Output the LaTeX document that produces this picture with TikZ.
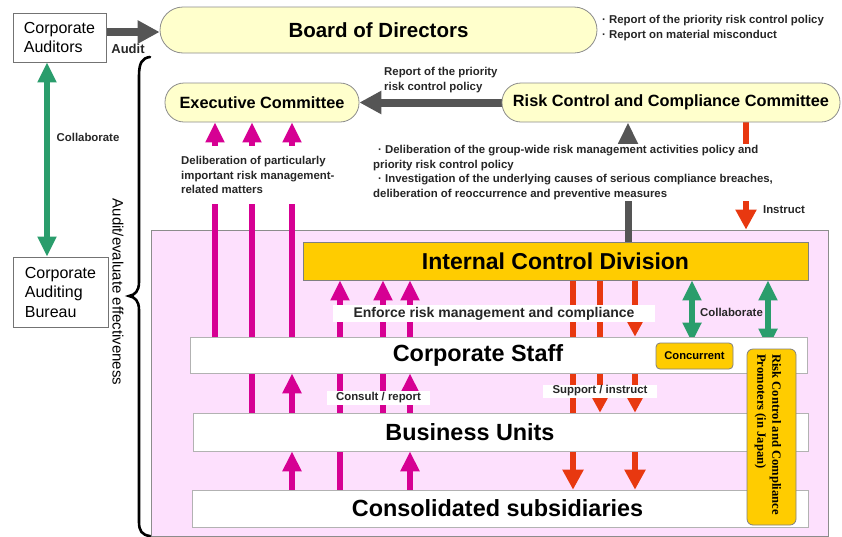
\documentclass[tikz,border=0pt]{standalone}
\usepackage{fontspec}
\setmainfont{Liberation Sans}
\newfontfamily\timesb{Liberation Serif}
\usetikzlibrary{arrows.meta}
\pgfdeclarelayer{bg}
\pgfdeclarelayer{arr}
\pgfsetlayers{bg,arr,main}
\definecolor{pillfill}{RGB}{255,255,204}
\definecolor{gold}{RGB}{255,204,0}
\definecolor{pinkfill}{RGB}{253,224,253}
\definecolor{mag}{RGB}{214,0,147}
\definecolor{redarr}{RGB}{232,56,16}
\definecolor{grn}{RGB}{42,157,108}
\definecolor{darkg}{RGB}{85,85,85}
\begin{document}
\begin{tikzpicture}[x=1pt,y=-1pt,
  pill/.style={draw=black!45, fill=pillfill, line width=0.8pt, inner sep=0pt, font=\bfseries\fontsize{16.3}{18}\selectfont},
  bx/.style={draw=black!55, fill=white, line width=0.8pt, inner sep=0pt, align=left, font=\fontsize{16}{19.5}\selectfont},
  bar/.style={draw=black!30, fill=white, line width=0.6pt, inner sep=0pt},
  bartxt/.style={inner sep=0pt, font=\bfseries\fontsize{23.4}{26}\selectfont},
  goldbox/.style={draw=black!50, fill=gold, line width=0.8pt, inner sep=0pt},
  lbl/.style={inner sep=1pt, font=\bfseries\fontsize{11.4}{14.5}\selectfont, text=black!85},
  wlbl/.style={lbl, fill=white, inner xsep=4pt},
  marr/.style={draw=mag, line width=6pt, -{Triangle[width=18pt,length=20pt]}},
  rarr/.style={draw=redarr, line width=6pt, -{Triangle[width=20pt,length=20pt]}},
  garr/.style={draw=grn, line width=6pt, {Triangle[width=18pt,length=20pt]}-{Triangle[width=18pt,length=20pt]}},
  darr/.style={draw=darkg, line width=8pt, -{Triangle[width=22pt,length=22pt]}},
]
\useasboundingbox (0,0) rectangle (842,536);

% region
\begin{pgfonlayer}{bg}
\node[draw=black!45, fill=pinkfill, line width=0.8pt, minimum width=677pt, minimum height=306pt, inner sep=0pt] (reg) at (489.5,383) {};
\end{pgfonlayer}

% boxes
\node[bx, minimum width=93pt, minimum height=49pt] (aud) at (59.5,37.5) {Corporate\\Auditors};
\node[bx, minimum width=95pt, minimum height=70pt] (bur) at (60.5,292) {Corporate\\Auditing\\Bureau};
\node[pill, rounded corners=23pt, minimum width=437pt, minimum height=46pt, font=\bfseries\fontsize{20.5}{24}\selectfont] (bod) at (378.5,30) {Board of Directors};
\node[pill, rounded corners=19pt, minimum width=194pt, minimum height=39pt] (exe) at (262,102.5) {Executive Committee};
\node[pill, rounded corners=19pt, minimum width=338pt, minimum height=39pt] (rcc) at (671,102.5) {Risk Control and Compliance Committee};

\node[goldbox, minimum width=505pt, minimum height=38pt, font=\bfseries\fontsize{23}{26}\selectfont] (icd) at (555.5,261) {Internal Control Division};

\node[bar, minimum width=617pt, minimum height=36pt] (cs) at (498.5,355) {};
\node[bar, minimum width=615pt, minimum height=38pt] (bu) at (500.5,432) {};
\node[bar, minimum width=616pt, minimum height=37pt] (co) at (500,508.5) {};
\node[bartxt] (cstx) at (478,355) {Corporate Staff};
\node[bartxt] (butx) at (470,432) {Business Units};
\node[bartxt] (cotx) at (497.5,508.5) {Consolidated subsidiaries};

\node[goldbox, rounded corners=4pt, minimum width=77pt, minimum height=26pt, font=\bfseries\fontsize{11.2}{12}\selectfont] (conc) at (694.5,356) {Concurrent};
\node[goldbox, rounded corners=6pt, minimum width=49pt, minimum height=176pt] (prom) at (771.5,437) {};
\node[rotate=-90, anchor=west, align=left, inner sep=0pt, font=\timesb\bfseries\fontsize{12.6}{15}\selectfont] (promtx) at (768,354) {Risk Control and Compliance\\Promoters (in Japan)};

% labels
\node[lbl, font=\bfseries\fontsize{13}{15}\selectfont] (audlbl) at (128,49) {Audit};
\node[lbl] (col1) at (88,137) {Collaborate};
\node[rotate=-90, inner sep=0pt, font=\fontsize{15}{17}\selectfont] (evl) at (118,292) {Audit/evaluate effectiveness};
\node[lbl, anchor=north west, align=left, font=\bfseries\fontsize{11.4}{15}\selectfont] (bodnote) at (601,14) {· Report of the priority risk control policy\\· Report on material misconduct};
\node[lbl, anchor=west, align=left, font=\bfseries\fontsize{11.4}{15}\selectfont] (rptlbl) at (383,80.5) {Report of the priority\\risk control policy};
\node[lbl, fill=white, anchor=west, align=left, minimum height=58pt] (del1) at (180,175) {Deliberation of particularly\\important risk management-\\related matters};
\node[lbl, fill=white, anchor=west, align=left, minimum height=55pt] (del2) at (372,172.5) {\hspace*{5pt}· Deliberation of the group-wide risk management activities policy and\\priority risk control policy\\\hspace*{5pt}· Investigation of the underlying causes of serious compliance breaches,\\deliberation of reoccurrence and preventive measures};
\node[lbl] (instr) at (784,210) {Instruct};
\node[wlbl, minimum width=322pt, minimum height=17pt, font=\bfseries\fontsize{14}{15}\selectfont] (enf) at (494,313.5) {Enforce risk management and compliance};
\node[wlbl, minimum width=103pt, minimum height=14pt] (cons) at (378.5,398) {Consult / report};
\node[wlbl, minimum width=114pt, minimum height=13pt] (supp) at (600,391) {Support / instruct};
\node[lbl] (col2) at (731.5,312) {Collaborate};

% connectors
\begin{pgfonlayer}{arr}
\draw[darr] (aud.east |- 0,32) -- (bod.west |- 0,32);
\draw[darr] (rcc.west) -- (exe.east);
\draw[darr, line width=7pt, -{Triangle[width=20pt,length=23pt]}] (628,0 |- icd.north) -- (628,0 |- rcc.south);
\draw[rarr] (746,0 |- rcc.south) -- (746,0 |- reg.north);

\draw[garr] (47,0 |- aud.south) -- (47,0 |- bur.north);
\draw[garr] (692,0 |- icd.south) -- (692,0 |- conc.north);
\draw[garr] (768,0 |- icd.south) -- (768,0 |- prom.north);

\draw[marr] (215,0 |- cs.north) -- (215,0 |- exe.south);
\draw[marr] (252,0 |- bu.north) -- (252,0 |- exe.south);
\draw[marr] (292,0 |- cs.north) -- (292,0 |- exe.south);
\draw[marr] (292,0 |- bu.north) -- (292,0 |- cs.south);
\draw[marr] (292,0 |- co.north) -- (292,0 |- bu.south);
\draw[marr] (340,0 |- co.north) -- (340,0 |- icd.south);
\draw[marr] (383,0 |- bu.north) -- (383,0 |- icd.south);
\draw[marr] (410,0 |- cs.north) -- (410,0 |- icd.south);
\draw[marr] (410,0 |- bu.north) -- (410,0 |- cs.south);
\draw[marr] (410,0 |- co.north) -- (410,0 |- bu.south);

\draw[rarr] (573,0 |- icd.south) -- (573,0 |- co.north);
\draw[rarr] (600,0 |- icd.south) -- (600,0 |- bu.north);
\draw[rarr] (635,0 |- icd.south) -- (635,0 |- cs.north);
\draw[rarr] (635,0 |- cs.south) -- (635,0 |- bu.north);
\draw[rarr] (635,0 |- bu.south) -- (635,0 |- co.north);
\end{pgfonlayer}

% brace
\draw[line width=2.6pt, line cap=round] (150,57) .. controls (142,58) and (139,63) .. (139,76) -- (139,282) .. controls (139,291) and (135,295) .. (129,296) .. controls (135,297) and (139,301) .. (139,310) -- (139,522) .. controls (139,531) and (142,535) .. (150,536);
\end{tikzpicture}
\end{document}
